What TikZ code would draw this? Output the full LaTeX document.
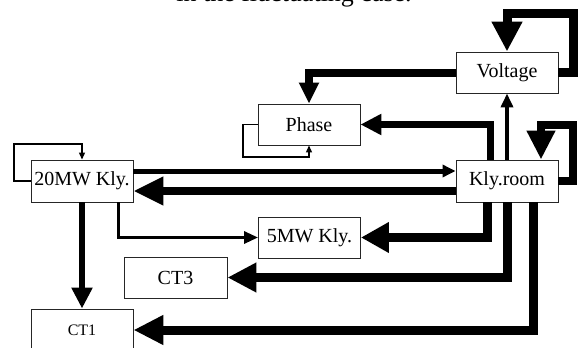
\documentclass[tikz,border=0pt]{standalone}
\usepackage{fontspec}
\setmainfont{Liberation Serif}
\usetikzlibrary{arrows.meta}
\begin{document}
\begin{tikzpicture}[x=1pt,y=-1pt,
  box/.style={draw=black!85,line width=0.9pt,fill=white,inner sep=0pt,
    minimum width=102pt,minimum height=41pt,font=\fontsize{20}{24}\selectfont},
  thin/.style={line width=1.2pt,-{Triangle[length=7pt,width=6pt]}},
  medium/.style={line width=4pt,-{Triangle[length=14pt,width=12pt]}},
  wide/.style={line width=8pt,-{Triangle[length=21pt,width=20pt]}},
  heavy/.style={line width=9pt,-{Triangle[length=29pt,width=28pt]}}]
\useasboundingbox (0,0) rectangle (582,348);
\clip (0,0) rectangle (582,348);
\node[anchor=base,font=\fontsize{26}{30}\selectfont] (cap) at (294,1.5) {in the fluctuating case.};
\node[box] (v) at (507,72.5) {Voltage};
\node[box] (ph) at (309,124.5) {Phase};
\node[box,minimum height=42pt] (k20) at (82,181) {20MW Kly.};
\node[box,minimum height=42pt] (kr) at (507,181) {Kly.room};
\node[box] (k5) at (309.5,237.5) {5MW Kly.};
\node[box,minimum width=103pt] (ct3) at (175.5,277.5) {CT3};
\node[box,minimum height=42pt,font=\fontsize{16}{19}\selectfont] (ct1) at (82,330) {CT1};
% Voltage self loop
\draw[heavy,line width=9pt,-{Triangle[length=30pt,width=29pt]}] (v.east) -| (573,13) -| (v.north);
% Voltage -> Phase
\draw[wide,-{Triangle[length=21pt,width=19pt]}] (v.west) -| (ph.north);
% Kly.room -> Phase
\draw[wide,line width=7pt] ([xshift=-17pt]kr.north) |- (ph.east);
% Kly.room -> Voltage
\draw[medium] (kr.north) -- (v.south);
% Kly.room self loop
\draw[heavy,line width=8pt,-{Triangle[length=29pt,width=27pt]}] (kr.east) -| (573,125) -| ([xshift=34pt]kr.north);
% 20MW -> Kly.room
\draw[line width=5pt,-{Triangle[length=13pt,width=12pt]}] ([yshift=10pt]k20.east) -- ([yshift=10pt]kr.west);
% Kly.room -> 20MW
\draw[heavy,line width=8pt,-{Triangle[length=30pt,width=27pt]}] ([yshift=-10pt]kr.west) -- ([yshift=-10pt]k20.east);
% 20MW self loop
\draw[thin] (k20.west) -| (14,144) -| (k20.north);
% Phase self loop
\draw[thin] (ph.west) -| (243,157) -| (ph.south);
% 20MW -> 5MW
\draw[line width=3pt,-{Triangle[length=14pt,width=12pt]}] ([xshift=36pt]k20.south) |- (k5.west);
% 20MW -> CT1
\draw[line width=6pt,-{Triangle[length=21pt,width=20pt]}] (k20.south) -- (ct1.north);
% Kly.room -> 5MW
\draw[heavy,-{Triangle[length=28pt,width=29pt]}] ([xshift=-20pt]kr.south) |- (k5.east);
% Kly.room -> CT3
\draw[heavy] (kr.south) |- (ct3.east);
% Kly.room -> CT1
\draw[heavy,-{Triangle[length=30pt,width=28pt]}] ([xshift=26pt]kr.south) |- (ct1.east);
\end{tikzpicture}
\end{document}
